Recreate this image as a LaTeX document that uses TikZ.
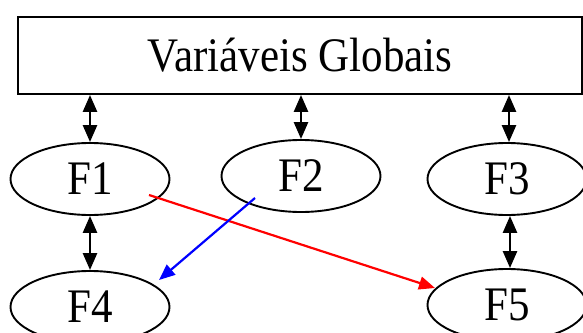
\documentclass[tikz,border=0pt]{standalone}
\usepackage{fontspec}
\setmainfont{Liberation Serif}
\usetikzlibrary{shapes.geometric,arrows.meta,calc}
\newcommand{\bigtxt}[1]{\scalebox{1}[1.12]{\fontsize{43}{48}\selectfont #1}}
\tikzset{
  fn/.style={draw, ellipse, line width=1.9pt, minimum width=159pt, minimum height=72pt, inner sep=0pt},
  gv/.style={draw, rectangle, line width=1.9pt, minimum width=564pt, minimum height=77pt, inner sep=0pt},
  dbl/.style={line width=2.6pt, {Triangle[length=17pt,width=14pt]}-{Triangle[length=17pt,width=14pt]}},
  col/.style={line width=2.2pt, -{Triangle[length=16pt,width=13pt]}}
}
\begin{document}
\begin{tikzpicture}[x=1pt,y=-1pt]
\useasboundingbox (0,0) rectangle (583,332);
\clip (0,0) rectangle (583,332);
\node[gv] (g) at (300,55.5) {\bigtxt{Variáveis Globais}};
\node[fn] (f1) at (90,179) {\bigtxt{F1}};
\node[fn] (f2) at (301,176) {\bigtxt{F2}};
\node[fn] (f3) at (507,179) {\bigtxt{F3}};
\node[fn] (f4) at (90,307) {\bigtxt{F4}};
\node[fn] (f5) at (507,305) {\bigtxt{F5}};
\draw[dbl] (f1.north |- g.south) -- (f1.north);
\draw[dbl] (f2.north |- g.south) -- (f2.north);
\draw[dbl] ($(f3.north |- g.south)+(2,0)$) -- ($(f3.north)+(2,0)$);
\draw[dbl] (f1.south) -- (f4.north);
\draw[dbl] ($(f3.south)+(3,0)$) -- ($(f5.north)+(3,0)$);
\coordinate (r1) at ($(f1.center)+(59,16)$);
\coordinate (r2) at ($(f5.center)+(-72,-17)$);
\coordinate (b1) at ($(f2.center)+(-46,22)$);
\coordinate (b2) at ($(f4.center)+(69,-27)$);
\draw[col, red] (r1) -- (r2);
\draw[col, blue] (b1) -- (b2);
\end{tikzpicture}
\end{document}
